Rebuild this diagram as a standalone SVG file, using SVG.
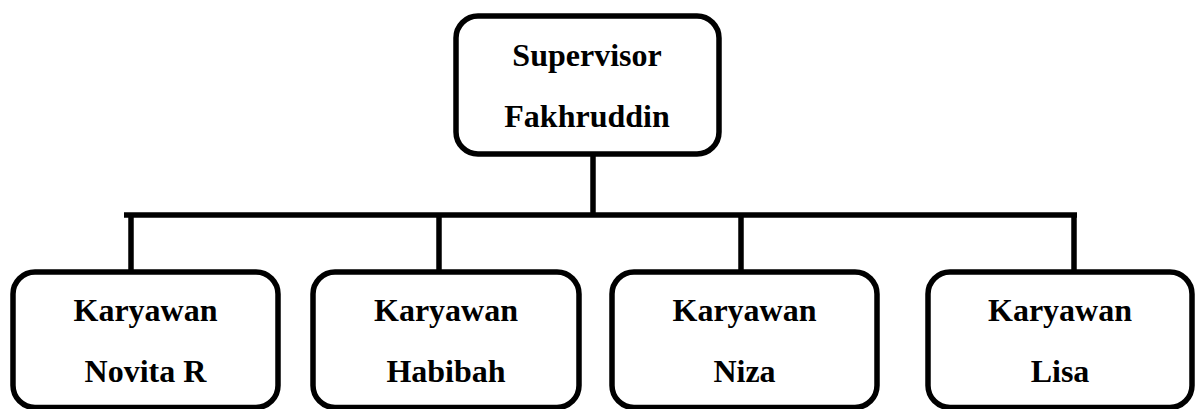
<svg xmlns="http://www.w3.org/2000/svg" width="1203" height="409" viewBox="0 0 1203 409">
  <style>
    .box { fill: #ffffff; stroke: #000000; stroke-width: 5.5; }
    .lbl { font-family: "Liberation Serif", "Times New Roman", serif; font-weight: bold; font-size: 32px; fill: #000000; text-anchor: middle; }
    .conn { fill: none; stroke: #000000; stroke-width: 5.5; }
  </style>
  <rect width="1203" height="409" fill="#ffffff"/>
  <g id="connectors">
    <line class="conn" x1="593" y1="156" x2="593" y2="215"/>
    <line class="conn" x1="124" y1="215" x2="1077" y2="215"/>
    <line class="conn" x1="131" y1="215" x2="131" y2="271"/>
    <line class="conn" x1="439" y1="215" x2="439" y2="271"/>
    <line class="conn" x1="741" y1="215" x2="741" y2="271"/>
    <line class="conn" x1="1074" y1="215" x2="1074" y2="271"/>
  </g>
  <g id="supervisor">
    <rect class="box" x="456" y="16" width="263" height="138" rx="22" ry="22"/>
    <text class="lbl" x="587" y="66">Supervisor</text>
    <text class="lbl" x="587" y="127">Fakhruddin</text>
  </g>
  <g id="novita">
    <rect class="box" x="13" y="272" width="265" height="135.5" rx="22" ry="22"/>
    <text class="lbl" x="145.5" y="321">Karyawan</text>
    <text class="lbl" x="145.5" y="382">Novita R</text>
  </g>
  <g id="habibah">
    <rect class="box" x="313" y="272" width="266" height="135.5" rx="22" ry="22"/>
    <text class="lbl" x="446" y="321">Karyawan</text>
    <text class="lbl" x="446" y="382">Habibah</text>
  </g>
  <g id="niza">
    <rect class="box" x="612" y="272" width="265" height="135.5" rx="22" ry="22"/>
    <text class="lbl" x="744.5" y="321">Karyawan</text>
    <text class="lbl" x="744.5" y="382">Niza</text>
  </g>
  <g id="lisa">
    <rect class="box" x="928" y="272" width="264" height="135.5" rx="22" ry="22"/>
    <text class="lbl" x="1060" y="321">Karyawan</text>
    <text class="lbl" x="1060" y="382">Lisa</text>
  </g>
</svg>
